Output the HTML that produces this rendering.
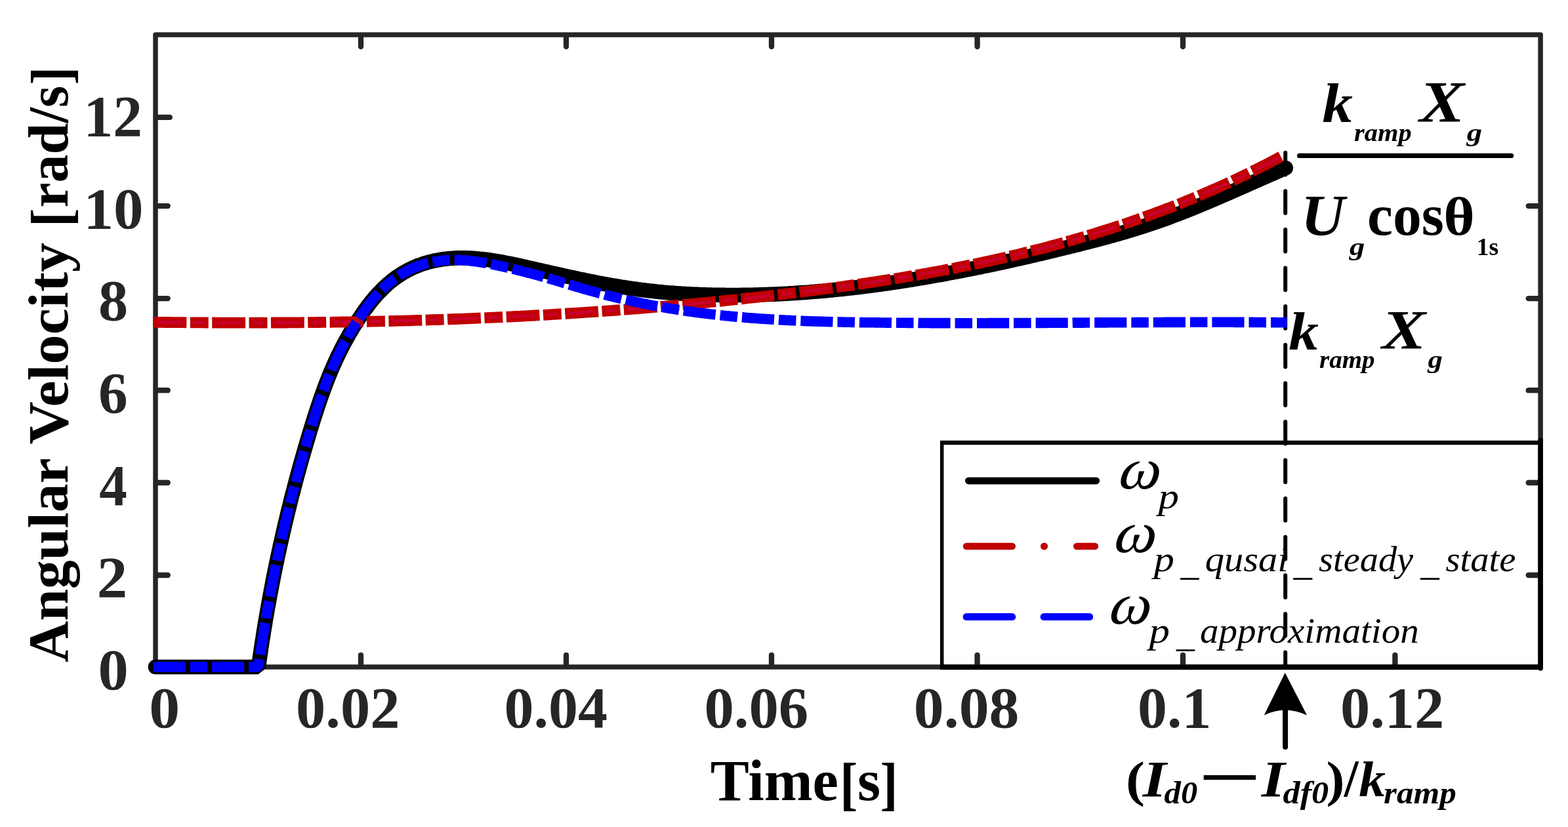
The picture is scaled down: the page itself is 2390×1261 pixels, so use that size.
<!DOCTYPE html>
<html lang="en">
<head>
<meta charset="utf-8">
<title>Angular velocity vs time</title>
<style>
html,body{margin:0;padding:0;background:#fff;overflow:hidden}
svg{display:block;font-family:"Liberation Serif","Times New Roman",Times,serif}
text{white-space:pre}
</style>
</head>
<body>
<svg width="2390" height="1261" viewBox="0 0 2390 1261">
<rect width="2390" height="1261" fill="#fff"/>
<rect x="237.0" y="53.1" width="2111.1" height="963.9" fill="none" stroke="#262626" stroke-width="7.5" stroke-linejoin="round"/>
<line x1="550" y1="1016.0" x2="550" y2="998.8" stroke="#262626" stroke-width="8.3" stroke-linecap="round"/>
<line x1="550" y1="54.1" x2="550" y2="71.1" stroke="#262626" stroke-width="8.3" stroke-linecap="round"/>
<line x1="863" y1="1016.0" x2="863" y2="998.8" stroke="#262626" stroke-width="8.3" stroke-linecap="round"/>
<line x1="863" y1="54.1" x2="863" y2="71.1" stroke="#262626" stroke-width="8.3" stroke-linecap="round"/>
<line x1="1176" y1="1016.0" x2="1176" y2="998.8" stroke="#262626" stroke-width="8.3" stroke-linecap="round"/>
<line x1="1176" y1="54.1" x2="1176" y2="71.1" stroke="#262626" stroke-width="8.3" stroke-linecap="round"/>
<line x1="1489.6" y1="1016.0" x2="1489.6" y2="998.8" stroke="#262626" stroke-width="8.3" stroke-linecap="round"/>
<line x1="1489.6" y1="54.1" x2="1489.6" y2="71.1" stroke="#262626" stroke-width="8.3" stroke-linecap="round"/>
<line x1="1803" y1="1016.0" x2="1803" y2="998.8" stroke="#262626" stroke-width="8.3" stroke-linecap="round"/>
<line x1="1803" y1="54.1" x2="1803" y2="71.1" stroke="#262626" stroke-width="8.3" stroke-linecap="round"/>
<line x1="2126.4" y1="1016.0" x2="2126.4" y2="998.8" stroke="#262626" stroke-width="8.3" stroke-linecap="round"/>
<line x1="238.0" y1="314.1" x2="255.8" y2="314.1" stroke="#262626" stroke-width="8.3" stroke-linecap="round"/>
<line x1="2347.1" y1="314.1" x2="2329.7" y2="314.1" stroke="#262626" stroke-width="8.3" stroke-linecap="round"/>
<line x1="238.0" y1="455.1" x2="255.8" y2="455.1" stroke="#262626" stroke-width="8.3" stroke-linecap="round"/>
<line x1="2347.1" y1="455.1" x2="2329.7" y2="455.1" stroke="#262626" stroke-width="8.3" stroke-linecap="round"/>
<line x1="238.0" y1="595.2" x2="255.8" y2="595.2" stroke="#262626" stroke-width="8.3" stroke-linecap="round"/>
<line x1="2347.1" y1="595.2" x2="2329.7" y2="595.2" stroke="#262626" stroke-width="8.3" stroke-linecap="round"/>
<line x1="238.0" y1="736" x2="255.8" y2="736" stroke="#262626" stroke-width="8.3" stroke-linecap="round"/>
<line x1="2347.1" y1="736" x2="2329.7" y2="736" stroke="#262626" stroke-width="8.3" stroke-linecap="round"/>
<line x1="238.0" y1="877" x2="255.8" y2="877" stroke="#262626" stroke-width="8.3" stroke-linecap="round"/>
<line x1="2347.1" y1="877" x2="2329.7" y2="877" stroke="#262626" stroke-width="8.3" stroke-linecap="round"/>
<line x1="238.0" y1="178.9" x2="258.9" y2="178.9" stroke="#262626" stroke-width="8.3" stroke-linecap="round"/>
<text x="127.6" y="207.2" font-size="88.5" font-weight="bold" fill="#262626" textLength="89.5" lengthAdjust="spacingAndGlyphs">12</text>
<text x="127.5" y="347.9" font-size="88.5" font-weight="bold" fill="#262626" textLength="91.1" lengthAdjust="spacingAndGlyphs">10</text>
<text x="150.0" y="488.4" font-size="88.5" font-weight="bold" fill="#262626" textLength="45.2" lengthAdjust="spacingAndGlyphs">8</text>
<text x="150.1" y="629.2" font-size="88.5" font-weight="bold" fill="#262626" textLength="44.7" lengthAdjust="spacingAndGlyphs">6</text>
<text x="151.3" y="769.9" font-size="88.5" font-weight="bold" fill="#262626" textLength="42.5" lengthAdjust="spacingAndGlyphs">4</text>
<text x="147.7" y="910.3" font-size="88.5" font-weight="bold" fill="#262626" textLength="46.5" lengthAdjust="spacingAndGlyphs">2</text>
<text x="149.5" y="1051.3" font-size="88.5" font-weight="bold" fill="#262626" textLength="46.3" lengthAdjust="spacingAndGlyphs">0</text>
<text x="227.2" y="1109.0" font-size="88.5" font-weight="bold" fill="#262626" textLength="46.9" lengthAdjust="spacingAndGlyphs">0</text>
<text x="451.1" y="1109.0" font-size="88.5" font-weight="bold" fill="#262626" textLength="158.4" lengthAdjust="spacingAndGlyphs">0.02</text>
<text x="768.5" y="1109.0" font-size="88.5" font-weight="bold" fill="#262626" textLength="157.5" lengthAdjust="spacingAndGlyphs">0.04</text>
<text x="1073.4" y="1109.0" font-size="88.5" font-weight="bold" fill="#262626" textLength="158.8" lengthAdjust="spacingAndGlyphs">0.06</text>
<text x="1392.8" y="1109.0" font-size="88.5" font-weight="bold" fill="#262626" textLength="160.7" lengthAdjust="spacingAndGlyphs">0.08</text>
<text x="1734.1" y="1109.0" font-size="88.5" font-weight="bold" fill="#262626" textLength="112.3" lengthAdjust="spacingAndGlyphs">0.1</text>
<text x="2043.0" y="1109.0" font-size="88.5" font-weight="bold" fill="#262626" textLength="158.3" lengthAdjust="spacingAndGlyphs">0.12</text>
<text><tspan x="1082.7" y="1220.4" font-size="88.2" font-weight="bold" textLength="195.2" lengthAdjust="spacingAndGlyphs">Time</tspan><tspan x="1279.9" y="1224.7" font-size="88.2" font-weight="bold" textLength="27.4" lengthAdjust="spacingAndGlyphs">[</tspan><tspan x="1307.0" y="1220.4" font-size="88.2" font-weight="bold" textLength="35.1" lengthAdjust="spacingAndGlyphs">s</tspan><tspan x="1341.6" y="1224.7" font-size="88.2" font-weight="bold" textLength="27.1" lengthAdjust="spacingAndGlyphs">]</tspan></text>
<text transform="translate(103.2,0) rotate(-90)"><tspan x="-1009.9" y="0" font-size="87.5" font-weight="bold" textLength="311.4" lengthAdjust="spacingAndGlyphs">Angular</tspan> <tspan x="-677.5" y="0" font-size="87.5" font-weight="bold" textLength="307.7" lengthAdjust="spacingAndGlyphs">Velocity</tspan> <tspan x="-346.5" y="3.7" font-size="87.5" font-weight="bold" textLength="29.2" lengthAdjust="spacingAndGlyphs">[</tspan><tspan x="-316.5" y="0" font-size="87.5" font-weight="bold" textLength="185.9" lengthAdjust="spacingAndGlyphs">rad/s</tspan><tspan x="-129.5" y="3.7" font-size="87.5" font-weight="bold" textLength="28.1" lengthAdjust="spacingAndGlyphs">]</tspan></text>
<g id="legend">
<line x1="1435.7" y1="675" x2="1435.7" y2="1017" stroke="#000" stroke-width="5.5" stroke-linecap="butt"/>
<line x1="1433" y1="675.1" x2="2348" y2="675.1" stroke="#000" stroke-width="6.5" stroke-linecap="butt"/>
<line x1="2348.1" y1="671.5" x2="2348.1" y2="1019" stroke="#000" stroke-width="7.5" stroke-linecap="round"/>
<line x1="1433" y1="1017.2" x2="2348.1" y2="1017.2" stroke="#000" stroke-width="8" stroke-linecap="butt"/>
<line x1="1476.3" y1="733.1" x2="1670.9" y2="733.1" stroke="#000" stroke-width="10.6" stroke-linecap="round"/>
<line x1="1473.1" y1="833" x2="1542.8" y2="833" stroke="#c00000" stroke-width="10.6" stroke-linecap="round"/>
<line x1="1591.5" y1="833" x2="1591.6" y2="833" stroke="#c00000" stroke-width="11" stroke-linecap="round"/>
<line x1="1641.3" y1="833" x2="1668.9" y2="833" stroke="#c00000" stroke-width="10.6" stroke-linecap="round"/>
<line x1="1473.1" y1="940.6" x2="1542.8" y2="940.6" stroke="#0000ff" stroke-width="11" stroke-linecap="round"/>
<line x1="1591.1" y1="940.6" x2="1660.8" y2="940.6" stroke="#0000ff" stroke-width="11" stroke-linecap="round"/>
<text transform="translate(1700.4,745.3) skewX(-16)" font-size="89" textLength="63.7" lengthAdjust="spacingAndGlyphs">ω</text>
<text x="1765.6" y="774.9" font-size="54.3" font-style="italic" textLength="31.5" lengthAdjust="spacingAndGlyphs">p</text>
<text transform="translate(1693.4,842.2) skewX(-16)" font-size="89" textLength="63.9" lengthAdjust="spacingAndGlyphs">ω</text>
<text><tspan x="1758.8" y="871.2" font-size="54.3" font-style="italic" textLength="31.2" lengthAdjust="spacingAndGlyphs">p</tspan><tspan x="1799.6" y="876.6" font-size="54.3" font-style="italic" textLength="28.0" lengthAdjust="spacingAndGlyphs">_</tspan><tspan x="1836.8" y="871.2" font-size="54.3" font-style="italic" textLength="126.6" lengthAdjust="spacingAndGlyphs">qusai</tspan><tspan x="1971.4" y="876.6" font-size="54.3" font-style="italic" textLength="28.5" lengthAdjust="spacingAndGlyphs">_</tspan><tspan x="2010.1" y="871.2" font-size="54.3" font-style="italic" textLength="144.0" lengthAdjust="spacingAndGlyphs">steady</tspan><tspan x="2165.2" y="876.6" font-size="54.3" font-style="italic" textLength="28.5" lengthAdjust="spacingAndGlyphs">_</tspan><tspan x="2203.4" y="871.2" font-size="54.3" font-style="italic" textLength="107.1" lengthAdjust="spacingAndGlyphs">state</tspan></text>
<text transform="translate(1686.1,951.2) skewX(-16)" font-size="89" textLength="63.6" lengthAdjust="spacingAndGlyphs">ω</text>
<text><tspan x="1751.5" y="980.3" font-size="54.3" font-style="italic" textLength="31.5" lengthAdjust="spacingAndGlyphs">p</tspan><tspan x="1793.0" y="985.6" font-size="54.3" font-style="italic" textLength="27.8" lengthAdjust="spacingAndGlyphs">_</tspan><tspan x="1828.9" y="980.3" font-size="54.3" font-style="italic" textLength="333.8" lengthAdjust="spacingAndGlyphs">approximation</tspan></text>
</g>
<path d="M1959.2,232.7 V1017" fill="none" stroke="#000" stroke-width="6" stroke-linecap="round" stroke-dasharray="33.7 24.9"/>
<path d="M237.0,1017.0 L393.6,1017.0 L394.5,1013.1 L395.1,1009.1 L395.6,1005.2 L396.2,1001.2 L396.8,997.3 L397.4,993.4 L397.9,989.4 L398.5,985.5 L399.1,981.5 L399.7,977.6 L400.4,973.7 L401.0,969.7 L401.6,965.8 L402.2,961.8 L402.9,957.9 L403.5,954.0 L404.2,950.0 L404.8,946.1 L405.5,942.1 L406.2,938.2 L406.9,934.3 L407.6,930.3 L408.2,926.4 L409.0,922.4 L409.7,918.5 L410.4,914.6 L411.1,910.6 L411.8,906.7 L412.6,902.8 L413.3,898.8 L414.1,894.9 L414.8,890.9 L415.6,887.0 L416.4,883.1 L417.1,879.1 L417.9,875.2 L418.7,871.2 L419.5,867.3 L420.3,863.4 L421.1,859.4 L422.0,855.5 L422.8,851.5 L423.6,847.6 L424.5,843.7 L425.3,839.7 L426.2,835.8 L427.0,831.8 L427.9,827.9 L428.8,824.0 L429.7,820.0 L430.6,816.1 L431.5,812.1 L432.4,808.2 L433.3,804.3 L434.2,800.3 L435.1,796.4 L436.1,792.4 L437.0,788.5 L438.0,784.6 L438.9,780.6 L439.9,776.7 L440.9,772.7 L441.9,768.8 L442.8,764.9 L443.8,760.9 L444.8,757.0 L445.8,753.0 L446.9,749.1 L447.9,745.2 L448.9,741.2 L450.0,737.3 L451.0,733.3 L452.1,729.4 L453.1,725.5 L454.2,721.5 L455.3,717.6 L456.4,713.7 L457.4,709.7 L458.5,705.8 L459.7,701.8 L460.8,697.9 L461.9,694.0 L463.0,690.0 L464.2,686.1 L465.3,682.1 L466.5,678.2 L467.6,674.3 L468.8,670.3 L470.0,666.4 L471.1,662.4 L472.3,658.5 L473.5,654.6 L474.7,650.6 L475.9,646.7 L477.2,642.7 L478.4,638.8 L479.6,634.9 L480.9,630.9 L482.2,627.0 L483.5,623.0 L484.8,619.1 L486.1,615.2 L487.4,611.2 L488.8,607.3 L490.2,603.3 L491.6,599.4 L493.0,595.5 L494.4,591.5 L495.9,587.6 L497.4,583.6 L499.0,579.7 L500.5,575.8 L502.1,571.8 L503.7,567.9 L505.4,563.9 L507.1,560.0 L508.8,556.1 L510.6,552.1 L512.4,548.2 L514.2,544.2 L516.1,540.3 L518.1,536.4 L520.0,532.4 L522.0,528.5 L524.1,524.6 L526.2,520.6 L528.4,516.7 L530.6,512.7 L532.8,508.8 L535.1,504.9 L537.5,500.9 L539.9,497.0 L542.4,493.0 L544.9,489.1 L547.5,485.2 L550.2,481.2 L552.9,477.3 L555.6,473.3 L558.5,469.4 L561.4,465.5 L564.4,461.5 L567.6,457.6 L570.9,453.6 L574.4,449.7 L578.0,445.8 L581.9,441.8 L585.9,437.9 L590.2,433.9 L594.8,430.0 L597.5,427.8 L600.3,425.7 L603.0,423.7 L605.7,421.7 L608.5,419.9 L611.2,418.1 L613.9,416.4 L616.7,414.8 L619.4,413.3 L622.2,411.8 L624.9,410.4 L627.6,409.1 L630.4,407.8 L633.1,406.7 L635.8,405.5 L638.6,404.5 L641.3,403.5 L644.0,402.5 L646.8,401.6 L649.5,400.8 L652.2,400.0 L655.0,399.3 L657.7,398.6 L660.5,397.9 L663.2,397.3 L665.9,396.8 L668.7,396.3 L671.4,395.8 L674.1,395.4 L676.9,395.0 L679.6,394.7 L682.3,394.4 L685.1,394.1 L687.8,393.9 L690.5,393.7 L693.3,393.5 L696.0,393.4 L698.7,393.3 L701.5,393.3 L704.2,393.2 L707.0,393.3 L709.7,393.3 L712.4,393.4 L715.2,393.5 L717.9,393.6 L720.6,393.8 L723.4,393.9 L726.1,394.2 L728.8,394.4 L731.6,394.7 L734.3,394.9 L737.0,395.3 L739.8,395.6 L742.5,395.9 L745.3,396.3 L748.0,396.7 L750.7,397.1 L753.5,397.5 L756.2,398.0 L758.9,398.5 L761.7,398.9 L764.4,399.4 L767.1,399.9 L769.9,400.5 L772.6,401.0 L775.3,401.5 L778.1,402.1 L780.8,402.7 L783.5,403.2 L786.3,403.8 L789.0,404.4 L791.8,405.0 L794.5,405.6 L797.2,406.2 L800.0,406.8 L802.7,407.5 L805.4,408.1 L808.2,408.7 L810.9,409.3 L813.6,409.9 L816.4,410.6 L819.1,411.2 L821.8,411.8 L824.6,412.4 L827.3,413.1 L830.1,413.7 L832.8,414.3 L835.5,414.9 L838.3,415.6 L841.0,416.2 L843.7,416.8 L846.5,417.4 L849.2,418.0 L851.9,418.6 L854.7,419.2 L857.4,419.9 L860.1,420.5 L862.9,421.1 L865.6,421.7 L868.3,422.3 L871.1,422.9 L873.8,423.4 L876.6,424.0 L879.3,424.6 L882.0,425.2 L884.8,425.8 L887.5,426.3 L890.2,426.9 L893.0,427.5 L895.7,428.0 L898.4,428.6 L901.2,429.1 L903.9,429.7 L906.6,430.2 L909.4,430.8 L912.1,431.3 L914.9,431.8 L917.6,432.3 L920.3,432.8 L923.1,433.3 L925.8,433.8 L928.5,434.3 L931.3,434.8 L934.0,435.3 L936.7,435.8 L939.5,436.2 L942.2,436.7 L944.9,437.1 L947.7,437.6 L950.4,438.0 L953.1,438.4 L955.9,438.9 L958.6,439.3 L961.4,439.7 L964.1,440.1 L966.8,440.4 L969.6,440.8 L972.3,441.2 L975.0,441.5 L977.8,441.9 L980.5,442.2 L983.2,442.6 L986.0,442.9 L988.7,443.2 L991.4,443.5 L994.2,443.8 L996.9,444.1 L999.7,444.4 L1002.4,444.7 L1005.1,444.9 L1007.9,445.2 L1010.6,445.5 L1013.3,445.7 L1016.1,445.9 L1018.8,446.2 L1021.5,446.4 L1024.3,446.6 L1027.0,446.8 L1029.7,447.0 L1032.5,447.2 L1035.2,447.4 L1037.9,447.6 L1040.7,447.8 L1043.4,447.9 L1046.2,448.1 L1048.9,448.2 L1051.6,448.4 L1054.4,448.5 L1057.1,448.7 L1059.8,448.8 L1062.6,448.9 L1065.3,449.0 L1068.0,449.1 L1070.8,449.2 L1073.5,449.3 L1076.2,449.4 L1079.0,449.5 L1081.7,449.6 L1084.4,449.6 L1087.2,449.7 L1089.9,449.7 L1092.7,449.8 L1095.4,449.8 L1098.1,449.9 L1100.9,449.9 L1103.6,449.9 L1106.3,450.0 L1109.1,450.0 L1111.8,450.0 L1114.5,450.0 L1117.3,450.0 L1120.0,450.0 L1122.7,450.0 L1125.5,450.0 L1128.2,450.0 L1131.0,449.9 L1133.7,449.9 L1136.4,449.9 L1139.2,449.8 L1141.9,449.8 L1144.6,449.7 L1147.4,449.7 L1150.1,449.6 L1152.8,449.5 L1155.6,449.5 L1158.3,449.4 L1161.0,449.3 L1163.8,449.2 L1166.5,449.1 L1169.2,449.0 L1172.0,448.9 L1174.7,448.8 L1177.5,448.7 L1180.2,448.6 L1182.9,448.5 L1185.7,448.4 L1188.4,448.2 L1191.1,448.1 L1193.9,448.0 L1196.6,447.8 L1199.3,447.7 L1202.1,447.5 L1204.8,447.3 L1207.5,447.2 L1210.3,447.0 L1213.0,446.8 L1215.8,446.6 L1218.5,446.5 L1221.2,446.3 L1224.0,446.1 L1226.7,445.9 L1229.4,445.7 L1232.2,445.5 L1234.9,445.3 L1237.6,445.0 L1240.4,444.8 L1243.1,444.6 L1245.8,444.4 L1248.6,444.1 L1251.3,443.9 L1254.0,443.7 L1256.8,443.4 L1259.5,443.2 L1262.3,442.9 L1265.0,442.6 L1267.7,442.4 L1270.5,442.1 L1273.2,441.8 L1275.9,441.6 L1278.7,441.3 L1281.4,441.0 L1284.1,440.7 L1286.9,440.4 L1289.6,440.1 L1292.3,439.8 L1295.1,439.5 L1297.8,439.2 L1300.6,438.9 L1303.3,438.5 L1306.0,438.2 L1308.8,437.9 L1311.5,437.6 L1314.2,437.2 L1317.0,436.9 L1319.7,436.5 L1322.4,436.2 L1325.2,435.8 L1327.9,435.5 L1330.6,435.1 L1333.4,434.8 L1336.1,434.4 L1338.8,434.0 L1341.6,433.7 L1344.3,433.3 L1347.1,432.9 L1349.8,432.5 L1352.5,432.1 L1355.3,431.7 L1358.0,431.3 L1360.7,430.9 L1363.5,430.5 L1366.2,430.1 L1368.9,429.7 L1371.7,429.3 L1374.4,428.9 L1377.1,428.4 L1379.9,428.0 L1382.6,427.6 L1385.4,427.1 L1388.1,426.7 L1390.8,426.3 L1393.6,425.8 L1396.3,425.4 L1399.0,424.9 L1401.8,424.5 L1404.5,424.0 L1407.2,423.6 L1410.0,423.1 L1412.7,422.6 L1415.4,422.1 L1418.2,421.7 L1420.9,421.2 L1423.6,420.7 L1426.4,420.2 L1429.1,419.7 L1431.9,419.2 L1434.6,418.8 L1437.3,418.3 L1440.1,417.8 L1442.8,417.3 L1445.5,416.7 L1448.3,416.2 L1451.0,415.7 L1453.7,415.2 L1456.5,414.7 L1459.2,414.2 L1461.9,413.6 L1464.7,413.1 L1467.4,412.6 L1470.2,412.0 L1472.9,411.5 L1475.6,411.0 L1478.4,410.4 L1481.1,409.9 L1483.8,409.3 L1486.6,408.8 L1489.3,408.2 L1492.0,407.7 L1494.8,407.1 L1497.5,406.5 L1500.2,406.0 L1503.0,405.4 L1505.7,404.8 L1508.4,404.3 L1511.2,403.7 L1513.9,403.1 L1516.7,402.5 L1519.4,401.9 L1522.1,401.3 L1524.9,400.8 L1527.6,400.2 L1530.3,399.6 L1533.1,399.0 L1535.8,398.4 L1538.5,397.8 L1541.3,397.2 L1544.0,396.6 L1546.7,395.9 L1549.5,395.3 L1552.2,394.7 L1555.0,394.1 L1557.7,393.5 L1560.4,392.9 L1563.2,392.2 L1565.9,391.6 L1568.6,391.0 L1571.4,390.3 L1574.1,389.7 L1576.8,389.1 L1579.6,388.4 L1582.3,387.8 L1585.0,387.2 L1587.8,386.5 L1590.5,385.9 L1593.2,385.2 L1596.0,384.6 L1598.7,383.9 L1601.5,383.3 L1604.2,382.6 L1606.9,381.9 L1609.7,381.3 L1612.4,380.6 L1615.1,379.9 L1617.9,379.3 L1620.6,378.6 L1623.3,377.9 L1626.1,377.3 L1628.8,376.6 L1631.5,375.9 L1634.3,375.2 L1637.0,374.6 L1639.8,373.9 L1642.5,373.2 L1645.2,372.5 L1648.0,371.8 L1650.7,371.1 L1653.4,370.4 L1656.2,369.7 L1658.9,369.0 L1661.6,368.3 L1664.4,367.6 L1667.1,366.9 L1669.8,366.2 L1672.6,365.5 L1675.3,364.7 L1678.0,364.0 L1680.8,363.3 L1683.5,362.5 L1686.3,361.8 L1689.0,361.0 L1691.7,360.3 L1694.5,359.5 L1697.2,358.8 L1699.9,358.0 L1702.7,357.2 L1705.4,356.5 L1708.1,355.7 L1710.9,354.9 L1713.6,354.1 L1716.3,353.3 L1719.1,352.5 L1721.8,351.6 L1724.5,350.8 L1727.3,350.0 L1730.0,349.1 L1732.8,348.3 L1735.5,347.4 L1738.2,346.6 L1741.0,345.7 L1743.7,344.8 L1746.4,343.9 L1749.2,343.0 L1751.9,342.1 L1754.6,341.2 L1757.4,340.3 L1760.1,339.4 L1762.8,338.4 L1765.6,337.5 L1768.3,336.5 L1771.1,335.5 L1773.8,334.6 L1776.5,333.6 L1779.3,332.6 L1782.0,331.6 L1784.7,330.6 L1787.5,329.5 L1790.2,328.5 L1792.9,327.5 L1795.7,326.4 L1798.4,325.4 L1801.1,324.3 L1803.9,323.2 L1806.6,322.2 L1809.3,321.1 L1812.1,320.0 L1814.8,318.9 L1817.6,317.8 L1820.3,316.7 L1823.0,315.5 L1825.8,314.4 L1828.5,313.3 L1831.2,312.2 L1834.0,311.0 L1836.7,309.9 L1839.4,308.7 L1842.2,307.6 L1844.9,306.4 L1847.6,305.3 L1850.4,304.1 L1853.1,302.9 L1855.9,301.7 L1858.6,300.6 L1861.3,299.4 L1864.1,298.2 L1866.8,297.0 L1869.5,295.8 L1872.3,294.6 L1875.0,293.4 L1877.7,292.2 L1880.5,291.0 L1883.2,289.8 L1885.9,288.6 L1888.7,287.4 L1891.4,286.2 L1894.1,285.0 L1896.9,283.8 L1899.6,282.6 L1902.4,281.4 L1905.1,280.2 L1907.8,279.0 L1910.6,277.7 L1913.3,276.5 L1916.0,275.3 L1918.8,274.1 L1921.5,272.9 L1924.2,271.7 L1927.0,270.5 L1929.7,269.3 L1932.4,268.1 L1935.2,266.9 L1937.9,265.7 L1940.7,264.5 L1943.4,263.3 L1946.1,262.1 L1948.9,260.9 L1951.6,259.7 L1954.3,258.5 L1957.1,257.3 L1959.8,256.2" fill="none" stroke="#000" stroke-width="22.6" stroke-linecap="round" stroke-linejoin="bevel"/>
<path d="M233.5,491.3 L239.2,491.3 L245.0,491.4 L250.7,491.5 L256.5,491.5 L262.2,491.6 L268.0,491.6 L273.7,491.7 L279.5,491.7 L285.2,491.8 L291.0,491.8 L296.7,491.9 L302.5,491.9 L308.2,491.9 L314.0,492.0 L319.7,492.0 L325.5,492.0 L331.2,492.1 L337.0,492.1 L342.7,492.1 L348.5,492.1 L354.2,492.1 L360.0,492.1 L365.7,492.1 L371.5,492.1 L377.2,492.1 L383.0,492.1 L388.7,492.1 L394.5,492.1 L400.2,492.1 L406.0,492.1 L411.7,492.1 L417.5,492.0 L423.2,492.0 L428.9,492.0 L434.7,492.0 L440.4,491.9 L446.2,491.9 L451.9,491.8 L457.7,491.8 L463.4,491.7 L469.2,491.7 L474.9,491.6 L480.7,491.6 L486.4,491.5 L492.2,491.4 L497.9,491.3 L503.7,491.3 L509.4,491.2 L515.2,491.1 L520.9,491.0 L526.7,490.9 L532.4,490.8 L538.2,490.7 L543.9,490.6 L549.7,490.5 L555.4,490.4 L561.2,490.3 L566.9,490.2 L572.7,490.1 L578.4,489.9 L584.2,489.8 L589.9,489.7 L595.7,489.5 L601.4,489.4 L607.2,489.2 L612.9,489.1 L618.6,488.9 L624.4,488.8 L630.1,488.6 L635.9,488.4 L641.6,488.3 L647.4,488.1 L653.1,487.9 L658.9,487.7 L664.6,487.5 L670.4,487.4 L676.1,487.2 L681.9,487.0 L687.6,486.7 L693.4,486.5 L699.1,486.3 L704.9,486.1 L710.6,485.9 L716.4,485.6 L722.1,485.4 L727.9,485.2 L733.6,484.9 L739.4,484.7 L745.1,484.4 L750.9,484.2 L756.6,483.9 L762.4,483.7 L768.1,483.4 L773.9,483.1 L779.6,482.8 L785.4,482.5 L791.1,482.3 L796.9,482.0 L802.6,481.7 L808.3,481.4 L814.1,481.0 L819.8,480.7 L825.6,480.4 L831.3,480.1 L837.1,479.8 L842.8,479.4 L848.6,479.1 L854.3,478.7 L860.1,478.4 L865.8,478.0 L871.6,477.7 L877.3,477.3 L883.1,476.9 L888.8,476.6 L894.6,476.2 L900.3,475.8 L906.1,475.4 L911.8,475.0 L917.6,474.6 L923.3,474.2 L929.1,473.8 L934.8,473.4 L940.6,473.0 L946.3,472.5 L952.1,472.1 L957.8,471.6 L963.6,471.2 L969.3,470.8 L975.1,470.3 L980.8,469.8 L986.6,469.4 L992.3,468.9 L998.0,468.4 L1003.8,467.9 L1009.5,467.4 L1015.3,466.9 L1021.0,466.4 L1026.8,465.9 L1032.5,465.4 L1038.3,464.9 L1044.0,464.4 L1049.8,463.8 L1055.5,463.3 L1061.3,462.8 L1067.0,462.2 L1072.8,461.7 L1078.5,461.1 L1084.3,460.5 L1090.0,460.0 L1095.8,459.4 L1101.5,458.8 L1107.3,458.2 L1113.0,457.6 L1118.8,457.0 L1124.5,456.4 L1130.3,455.8 L1136.0,455.2 L1141.8,454.5 L1147.5,453.9 L1153.3,453.3 L1159.0,452.6 L1164.8,452.0 L1170.5,451.3 L1176.3,450.6 L1182.0,450.0 L1187.8,449.3 L1193.5,448.6 L1199.2,447.9 L1205.0,447.2 L1210.7,446.5 L1216.5,445.8 L1222.2,445.1 L1228.0,444.4 L1233.7,443.6 L1239.5,442.9 L1245.2,442.1 L1251.0,441.4 L1256.7,440.6 L1262.5,439.9 L1268.2,439.1 L1274.0,438.3 L1279.7,437.5 L1285.5,436.7 L1291.2,435.9 L1297.0,435.1 L1302.7,434.3 L1308.5,433.5 L1314.2,432.6 L1320.0,431.8 L1325.7,430.9 L1331.5,430.1 L1337.2,429.2 L1343.0,428.3 L1348.7,427.4 L1354.5,426.5 L1360.2,425.6 L1366.0,424.7 L1371.7,423.7 L1377.5,422.8 L1383.2,421.8 L1388.9,420.9 L1394.7,419.9 L1400.4,418.9 L1406.2,417.9 L1411.9,416.9 L1417.7,415.8 L1423.4,414.8 L1429.2,413.7 L1434.9,412.7 L1440.7,411.6 L1446.4,410.5 L1452.2,409.4 L1457.9,408.3 L1463.7,407.1 L1469.4,406.0 L1475.2,404.8 L1480.9,403.6 L1486.7,402.4 L1492.4,401.2 L1498.2,400.0 L1503.9,398.8 L1509.7,397.5 L1515.4,396.3 L1521.2,395.0 L1526.9,393.7 L1532.7,392.4 L1538.4,391.0 L1544.2,389.7 L1549.9,388.3 L1555.7,386.9 L1561.4,385.5 L1567.2,384.1 L1572.9,382.7 L1578.6,381.2 L1584.4,379.8 L1590.1,378.3 L1595.9,376.8 L1601.6,375.2 L1607.4,373.7 L1613.1,372.1 L1618.9,370.5 L1624.6,368.9 L1630.4,367.3 L1636.1,365.7 L1641.9,364.0 L1647.6,362.3 L1653.4,360.6 L1659.1,358.9 L1664.9,357.2 L1670.6,355.4 L1676.4,353.6 L1682.1,351.8 L1687.9,350.0 L1693.6,348.2 L1699.4,346.3 L1705.1,344.4 L1710.9,342.5 L1716.6,340.6 L1722.4,338.6 L1728.1,336.6 L1733.9,334.6 L1739.6,332.6 L1745.4,330.5 L1751.1,328.5 L1756.9,326.4 L1762.6,324.2 L1768.3,322.1 L1774.1,319.9 L1779.8,317.7 L1785.6,315.5 L1791.3,313.3 L1797.1,311.0 L1802.8,308.7 L1808.6,306.4 L1814.3,304.0 L1820.1,301.6 L1825.8,299.2 L1831.6,296.8 L1837.3,294.3 L1843.1,291.8 L1848.8,289.3 L1854.6,286.8 L1860.3,284.2 L1866.1,281.6 L1871.8,278.9 L1877.6,276.3 L1883.3,273.6 L1889.1,270.8 L1894.8,268.1 L1900.6,265.3 L1906.3,262.5 L1912.1,259.6 L1917.8,256.7 L1923.6,253.8 L1929.3,250.9 L1935.1,247.9 L1940.8,244.9 L1946.6,241.8 L1952.3,238.8" fill="none" stroke="#c00000" stroke-width="16.8" stroke-dasharray="50.85 5.48 27.92 5.48"/>
<path d="M233.5,491.3 L239.2,491.3 L245.0,491.4 L250.7,491.5 L256.5,491.5 L262.2,491.6 L268.0,491.6 L273.7,491.7 L279.5,491.7 L285.2,491.8 L291.0,491.8 L296.7,491.9 L302.5,491.9 L308.2,491.9 L314.0,492.0 L319.7,492.0 L325.5,492.0 L331.2,492.1 L337.0,492.1 L342.7,492.1 L348.5,492.1 L354.2,492.1 L360.0,492.1 L365.7,492.1 L371.5,492.1 L377.2,492.1 L383.0,492.1 L388.7,492.1 L394.5,492.1 L400.2,492.1 L406.0,492.1 L411.7,492.1 L417.5,492.0 L423.2,492.0 L428.9,492.0 L434.7,492.0 L440.4,491.9 L446.2,491.9 L451.9,491.8 L457.7,491.8 L463.4,491.7 L469.2,491.7 L474.9,491.6 L480.7,491.6 L486.4,491.5 L492.2,491.4 L497.9,491.3 L503.7,491.3 L509.4,491.2 L515.2,491.1 L520.9,491.0 L526.7,490.9 L532.4,490.8 L538.2,490.7 L543.9,490.6 L549.7,490.5 L555.4,490.4 L561.2,490.3 L566.9,490.2 L572.7,490.1 L578.4,489.9 L584.2,489.8 L589.9,489.7 L595.7,489.5 L601.4,489.4 L607.2,489.2 L612.9,489.1 L618.6,488.9 L624.4,488.8 L630.1,488.6 L635.9,488.4 L641.6,488.3 L647.4,488.1 L653.1,487.9 L658.9,487.7 L664.6,487.5 L670.4,487.4 L676.1,487.2 L681.9,487.0 L687.6,486.7 L693.4,486.5 L699.1,486.3 L704.9,486.1 L710.6,485.9 L716.4,485.6 L722.1,485.4 L727.9,485.2 L733.6,484.9 L739.4,484.7 L745.1,484.4 L750.9,484.2 L756.6,483.9 L762.4,483.7 L768.1,483.4 L773.9,483.1 L779.6,482.8 L785.4,482.5 L791.1,482.3 L796.9,482.0 L802.6,481.7 L808.3,481.4 L814.1,481.0 L819.8,480.7 L825.6,480.4 L831.3,480.1 L837.1,479.8 L842.8,479.4 L848.6,479.1 L854.3,478.7 L860.1,478.4 L865.8,478.0 L871.6,477.7 L877.3,477.3 L883.1,476.9 L888.8,476.6 L894.6,476.2 L900.3,475.8 L906.1,475.4 L911.8,475.0 L917.6,474.6 L923.3,474.2 L929.1,473.8 L934.8,473.4 L940.6,473.0 L946.3,472.5 L952.1,472.1 L957.8,471.6 L963.6,471.2 L969.3,470.8 L975.1,470.3 L980.8,469.8 L986.6,469.4 L992.3,468.9 L998.0,468.4 L1003.8,467.9 L1009.5,467.4 L1015.3,466.9 L1021.0,466.4 L1026.8,465.9 L1032.5,465.4 L1038.3,464.9 L1044.0,464.4 L1049.8,463.8 L1055.5,463.3 L1061.3,462.8 L1067.0,462.2 L1072.8,461.7 L1078.5,461.1 L1084.3,460.5 L1090.0,460.0 L1095.8,459.4 L1101.5,458.8 L1107.3,458.2 L1113.0,457.6 L1118.8,457.0 L1124.5,456.4 L1130.3,455.8 L1136.0,455.2 L1141.8,454.5 L1147.5,453.9 L1153.3,453.3 L1159.0,452.6 L1164.8,452.0 L1170.5,451.3 L1176.3,450.6 L1182.0,450.0 L1187.8,449.3 L1193.5,448.6 L1199.2,447.9 L1205.0,447.2 L1210.7,446.5 L1216.5,445.8 L1222.2,445.1 L1228.0,444.4 L1233.7,443.6 L1239.5,442.9 L1245.2,442.1 L1251.0,441.4 L1256.7,440.6 L1262.5,439.9 L1268.2,439.1 L1274.0,438.3 L1279.7,437.5 L1285.5,436.7 L1291.2,435.9 L1297.0,435.1 L1302.7,434.3 L1308.5,433.5 L1314.2,432.6 L1320.0,431.8 L1325.7,430.9 L1331.5,430.1 L1337.2,429.2 L1343.0,428.3 L1348.7,427.4 L1354.5,426.5 L1360.2,425.6 L1366.0,424.7 L1371.7,423.7 L1377.5,422.8 L1383.2,421.8 L1388.9,420.9 L1394.7,419.9 L1400.4,418.9 L1406.2,417.9 L1411.9,416.9 L1417.7,415.8 L1423.4,414.8 L1429.2,413.7 L1434.9,412.7 L1440.7,411.6 L1446.4,410.5 L1452.2,409.4 L1457.9,408.3 L1463.7,407.1 L1469.4,406.0 L1475.2,404.8 L1480.9,403.6 L1486.7,402.4 L1492.4,401.2 L1498.2,400.0 L1503.9,398.8 L1509.7,397.5 L1515.4,396.3 L1521.2,395.0 L1526.9,393.7 L1532.7,392.4 L1538.4,391.0 L1544.2,389.7 L1549.9,388.3 L1555.7,386.9 L1561.4,385.5 L1567.2,384.1 L1572.9,382.7 L1578.6,381.2 L1584.4,379.8 L1590.1,378.3 L1595.9,376.8 L1601.6,375.2 L1607.4,373.7 L1613.1,372.1 L1618.9,370.5 L1624.6,368.9 L1630.4,367.3 L1636.1,365.7 L1641.9,364.0 L1647.6,362.3 L1653.4,360.6 L1659.1,358.9 L1664.9,357.2 L1670.6,355.4 L1676.4,353.6 L1682.1,351.8 L1687.9,350.0 L1693.6,348.2 L1699.4,346.3 L1705.1,344.4 L1710.9,342.5 L1716.6,340.6 L1722.4,338.6 L1728.1,336.6 L1733.9,334.6 L1739.6,332.6 L1745.4,330.5 L1751.1,328.5 L1756.9,326.4 L1762.6,324.2 L1768.3,322.1 L1774.1,319.9 L1779.8,317.7 L1785.6,315.5 L1791.3,313.3 L1797.1,311.0 L1802.8,308.7 L1808.6,306.4 L1814.3,304.0 L1820.1,301.6 L1825.8,299.2 L1831.6,296.8 L1837.3,294.3 L1843.1,291.8 L1848.8,289.3 L1854.6,286.8 L1860.3,284.2 L1866.1,281.6 L1871.8,278.9 L1877.6,276.3 L1883.3,273.6 L1889.1,270.8 L1894.8,268.1 L1900.6,265.3 L1906.3,262.5 L1912.1,259.6 L1917.8,256.7 L1923.6,253.8 L1929.3,250.9 L1935.1,247.9 L1940.8,244.9 L1946.6,241.8 L1952.3,238.8" fill="none" stroke="#c8002c" stroke-width="5" stroke-dasharray="39.85 16.48 16.92 16.48" stroke-dashoffset="-5.5"/>
<path d="M233.5,1017.0 L393.6,1017.0 L394.5,1013.1 L395.1,1009.1 L395.6,1005.2 L396.2,1001.2 L396.8,997.3 L397.4,993.4 L397.9,989.4 L398.5,985.5 L399.1,981.5 L399.7,977.6 L400.4,973.7 L401.0,969.7 L401.6,965.8 L402.2,961.8 L402.9,957.9 L403.5,954.0 L404.2,950.0 L404.8,946.1 L405.5,942.1 L406.2,938.2 L406.9,934.3 L407.6,930.3 L408.2,926.4 L409.0,922.4 L409.7,918.5 L410.4,914.6 L411.1,910.6 L411.8,906.7 L412.6,902.8 L413.3,898.8 L414.1,894.9 L414.8,890.9 L415.6,887.0 L416.4,883.1 L417.1,879.1 L417.9,875.2 L418.7,871.2 L419.5,867.3 L420.3,863.4 L421.1,859.4 L422.0,855.5 L422.8,851.5 L423.6,847.6 L424.5,843.7 L425.3,839.7 L426.2,835.8 L427.0,831.8 L427.9,827.9 L428.8,824.0 L429.7,820.0 L430.6,816.1 L431.5,812.1 L432.4,808.2 L433.3,804.3 L434.2,800.3 L435.1,796.4 L436.1,792.4 L437.0,788.5 L438.0,784.6 L438.9,780.6 L439.9,776.7 L440.9,772.7 L441.9,768.8 L442.8,764.9 L443.8,760.9 L444.8,757.0 L445.8,753.0 L446.9,749.1 L447.9,745.2 L448.9,741.2 L450.0,737.3 L451.0,733.3 L452.1,729.4 L453.1,725.5 L454.2,721.5 L455.3,717.6 L456.4,713.7 L457.4,709.7 L458.5,705.8 L459.7,701.8 L460.8,697.9 L461.9,694.0 L463.0,690.0 L464.2,686.1 L465.3,682.1 L466.5,678.2 L467.6,674.3 L468.8,670.3 L470.0,666.4 L471.1,662.4 L472.3,658.5 L473.5,654.6 L474.7,650.6 L475.9,646.7 L477.2,642.7 L478.4,638.8 L479.6,634.9 L480.9,630.9 L482.2,627.0 L483.5,623.0 L484.8,619.1 L486.1,615.2 L487.4,611.2 L488.8,607.3 L490.2,603.3 L491.6,599.4 L493.0,595.5 L494.4,591.5 L495.9,587.6 L497.4,583.6 L499.0,579.7 L500.5,575.8 L502.1,571.8 L503.7,567.9 L505.4,563.9 L507.1,560.0 L508.8,556.1 L510.6,552.1 L512.4,548.2 L514.2,544.2 L516.1,540.3 L518.1,536.4 L520.0,532.4 L522.0,528.5 L524.1,524.6 L526.2,520.6 L528.4,516.7 L530.6,512.7 L532.8,508.8 L535.1,504.9 L537.5,500.9 L539.9,497.0 L542.4,493.0 L544.9,489.1 L547.5,485.2 L550.2,481.2 L552.9,477.3 L555.6,473.3 L558.5,469.4 L561.4,465.5 L564.4,461.5 L567.6,457.6 L570.9,453.6 L574.4,449.7 L578.0,445.8 L581.9,441.8 L585.9,437.9 L590.2,433.9 L594.8,430.0 L597.5,427.8 L600.3,425.7 L603.0,423.8 L605.8,421.9 L608.5,420.1 L611.2,418.4 L614.0,416.7 L616.7,415.2 L619.5,413.7 L622.2,412.3 L624.9,411.0 L627.7,409.7 L630.4,408.5 L633.1,407.3 L635.9,406.3 L638.6,405.3 L641.4,404.3 L644.1,403.4 L646.8,402.6 L649.6,401.8 L652.3,401.1 L655.1,400.5 L657.8,399.8 L660.5,399.3 L663.3,398.8 L666.0,398.3 L668.8,398.0 L671.5,397.6 L674.2,397.3 L677.0,397.0 L679.7,396.8 L682.4,396.7 L685.2,396.5 L687.9,396.4 L690.7,396.4 L693.4,396.4 L696.1,396.4 L698.9,396.5 L701.6,396.6 L704.4,396.7 L707.1,396.9 L709.8,397.1 L712.6,397.3 L715.3,397.6 L718.1,397.9 L720.8,398.2 L723.5,398.6 L726.3,398.9 L729.0,399.3 L731.7,399.8 L734.5,400.2 L737.2,400.7 L740.0,401.1 L742.7,401.6 L745.4,402.1 L748.2,402.7 L750.9,403.2 L753.7,403.8 L756.4,404.3 L759.1,404.9 L761.9,405.5 L764.6,406.1 L767.3,406.7 L770.1,407.3 L772.8,408.0 L775.6,408.6 L778.3,409.2 L781.0,409.9 L783.8,410.5 L786.5,411.2 L789.3,411.9 L792.0,412.6 L794.7,413.3 L797.5,414.0 L800.2,414.7 L803.0,415.4 L805.7,416.1 L808.4,416.8 L811.2,417.5 L813.9,418.3 L816.6,419.0 L819.4,419.8 L822.1,420.5 L824.9,421.3 L827.6,422.1 L830.3,422.9 L833.1,423.6 L835.8,424.4 L838.6,425.2 L841.3,426.0 L844.0,426.8 L846.8,427.6 L849.5,428.4 L852.3,429.3 L855.0,430.1 L857.7,430.9 L860.5,431.7 L863.2,432.5 L865.9,433.4 L868.7,434.2 L871.4,435.0 L874.2,435.8 L876.9,436.7 L879.6,437.5 L882.4,438.3 L885.1,439.1 L887.9,439.9 L890.6,440.7 L893.3,441.5 L896.1,442.2 L898.8,443.0 L901.6,443.8 L904.3,444.5 L907.0,445.3 L909.8,446.0 L912.5,446.8 L915.2,447.5 L918.0,448.2 L920.7,448.9 L923.5,449.7 L926.2,450.4 L928.9,451.1 L931.7,451.7 L934.4,452.4 L937.2,453.1 L939.9,453.8 L942.6,454.4 L945.4,455.1 L948.1,455.7 L950.9,456.4 L953.6,457.0 L956.3,457.6 L959.1,458.2 L961.8,458.9 L964.5,459.5 L967.3,460.1 L970.0,460.6 L972.8,461.2 L975.5,461.8 L978.2,462.4 L981.0,462.9 L983.7,463.5 L986.5,464.0 L989.2,464.6 L991.9,465.1 L994.7,465.6 L997.4,466.1 L1000.2,466.6 L1002.9,467.1 L1005.6,467.6 L1008.4,468.1 L1011.1,468.6 L1013.8,469.1 L1016.6,469.6 L1019.3,470.0 L1022.1,470.5 L1024.8,470.9 L1027.5,471.4 L1030.3,471.8 L1033.0,472.2 L1035.8,472.6 L1038.5,473.1 L1041.2,473.5 L1044.0,473.9 L1046.7,474.3 L1049.5,474.7 L1052.2,475.1 L1054.9,475.4 L1057.7,475.8 L1060.4,476.2 L1063.1,476.5 L1065.9,476.9 L1068.6,477.2 L1071.4,477.6 L1074.1,477.9 L1076.8,478.3 L1079.6,478.6 L1082.3,478.9 L1085.1,479.2 L1087.8,479.5 L1090.5,479.8 L1093.3,480.1 L1096.0,480.4 L1098.8,480.7 L1101.5,481.0 L1104.2,481.3 L1107.0,481.6 L1109.7,481.8 L1112.4,482.1 L1115.2,482.4 L1117.9,482.6 L1120.7,482.9 L1123.4,483.1 L1126.1,483.4 L1128.9,483.6 L1131.6,483.8 L1134.4,484.1 L1137.1,484.3 L1139.8,484.5 L1142.6,484.7 L1145.3,484.9 L1148.1,485.1 L1150.8,485.3 L1153.5,485.5 L1156.3,485.7 L1159.0,485.9 L1161.7,486.1 L1164.5,486.3 L1167.2,486.5 L1170.0,486.6 L1172.7,486.8 L1175.4,487.0 L1178.2,487.1 L1180.9,487.3 L1183.7,487.5 L1186.4,487.6 L1189.1,487.8 L1191.9,487.9 L1194.6,488.0 L1197.4,488.2 L1200.1,488.3 L1202.8,488.4 L1205.6,488.6 L1208.3,488.7 L1211.0,488.8 L1213.8,488.9 L1216.5,489.0 L1219.3,489.2 L1222.0,489.3 L1224.7,489.4 L1227.5,489.5 L1230.2,489.6 L1233.0,489.7 L1235.7,489.8 L1238.4,489.9 L1241.2,490.0 L1243.9,490.0 L1246.7,490.1 L1249.4,490.2 L1252.1,490.3 L1254.9,490.4 L1257.6,490.5 L1260.3,490.5 L1263.1,490.6 L1265.8,490.7 L1268.6,490.7 L1271.3,490.8 L1274.0,490.9 L1276.8,490.9 L1279.5,491.0 L1282.3,491.0 L1285.0,491.1 L1287.7,491.2 L1290.5,491.2 L1293.2,491.3 L1296.0,491.3 L1298.7,491.4 L1301.4,491.4 L1304.2,491.5 L1306.9,491.5 L1309.6,491.5 L1312.4,491.6 L1315.1,491.6 L1317.9,491.7 L1320.6,491.7 L1323.3,491.7 L1326.1,491.8 L1328.8,491.8 L1331.6,491.8 L1334.3,491.9 L1337.0,491.9 L1339.8,491.9 L1342.5,492.0 L1345.3,492.0 L1348.0,492.0 L1350.7,492.1 L1353.5,492.1 L1356.2,492.1 L1358.9,492.1 L1361.7,492.2 L1364.4,492.2 L1367.2,492.2 L1369.9,492.2 L1372.6,492.3 L1375.4,492.3 L1378.1,492.3 L1380.9,492.3 L1383.6,492.4 L1386.3,492.4 L1389.1,492.4 L1391.8,492.4 L1394.6,492.4 L1397.3,492.4 L1400.0,492.5 L1402.8,492.5 L1405.5,492.5 L1408.2,492.5 L1411.0,492.5 L1413.7,492.5 L1416.5,492.5 L1419.2,492.6 L1421.9,492.6 L1424.7,492.6 L1427.4,492.6 L1430.2,492.6 L1432.9,492.6 L1435.6,492.6 L1438.4,492.6 L1441.1,492.6 L1443.9,492.6 L1446.6,492.6 L1449.3,492.6 L1452.1,492.6 L1454.8,492.7 L1457.5,492.7 L1460.3,492.7 L1463.0,492.7 L1465.8,492.7 L1468.5,492.7 L1471.2,492.7 L1474.0,492.7 L1476.7,492.7 L1479.5,492.7 L1482.2,492.7 L1484.9,492.7 L1487.7,492.7 L1490.4,492.7 L1493.2,492.7 L1495.9,492.7 L1498.6,492.7 L1501.4,492.7 L1504.1,492.7 L1506.8,492.6 L1509.6,492.6 L1512.3,492.6 L1515.1,492.6 L1517.8,492.6 L1520.5,492.6 L1523.3,492.6 L1526.0,492.6 L1528.8,492.6 L1531.5,492.6 L1534.2,492.6 L1537.0,492.6 L1539.7,492.6 L1542.5,492.6 L1545.2,492.6 L1547.9,492.5 L1550.7,492.5 L1553.4,492.5 L1556.1,492.5 L1558.9,492.5 L1561.6,492.5 L1564.4,492.5 L1567.1,492.5 L1569.8,492.5 L1572.6,492.5 L1575.3,492.4 L1578.1,492.4 L1580.8,492.4 L1583.5,492.4 L1586.3,492.4 L1589.0,492.4 L1591.8,492.4 L1594.5,492.4 L1597.2,492.3 L1600.0,492.3 L1602.7,492.3 L1605.4,492.3 L1608.2,492.3 L1610.9,492.3 L1613.7,492.3 L1616.4,492.2 L1619.1,492.2 L1621.9,492.2 L1624.6,492.2 L1627.4,492.2 L1630.1,492.2 L1632.8,492.2 L1635.6,492.1 L1638.3,492.1 L1641.1,492.1 L1643.8,492.1 L1646.5,492.1 L1649.3,492.1 L1652.0,492.1 L1654.7,492.0 L1657.5,492.0 L1660.2,492.0 L1663.0,492.0 L1665.7,492.0 L1668.4,492.0 L1671.2,491.9 L1673.9,491.9 L1676.7,491.9 L1679.4,491.9 L1682.1,491.9 L1684.9,491.9 L1687.6,491.9 L1690.4,491.8 L1693.1,491.8 L1695.8,491.8 L1698.6,491.8 L1701.3,491.8 L1704.0,491.8 L1706.8,491.8 L1709.5,491.7 L1712.3,491.7 L1715.0,491.7 L1717.7,491.7 L1720.5,491.7 L1723.2,491.7 L1726.0,491.7 L1728.7,491.6 L1731.4,491.6 L1734.2,491.6 L1736.9,491.6 L1739.7,491.6 L1742.4,491.6 L1745.1,491.6 L1747.9,491.6 L1750.6,491.5 L1753.3,491.5 L1756.1,491.5 L1758.8,491.5 L1761.6,491.5 L1764.3,491.5 L1767.0,491.5 L1769.8,491.5 L1772.5,491.5 L1775.3,491.4 L1778.0,491.4 L1780.7,491.4 L1783.5,491.4 L1786.2,491.4 L1789.0,491.4 L1791.7,491.4 L1794.4,491.4 L1797.2,491.4 L1799.9,491.4 L1802.6,491.4 L1805.4,491.4 L1808.1,491.4 L1810.9,491.3 L1813.6,491.3 L1816.3,491.3 L1819.1,491.3 L1821.8,491.3 L1824.6,491.3 L1827.3,491.3 L1830.0,491.3 L1832.8,491.3 L1835.5,491.3 L1838.3,491.3 L1841.0,491.3 L1843.7,491.3 L1846.5,491.3 L1849.2,491.3 L1851.9,491.3 L1854.7,491.3 L1857.4,491.3 L1860.2,491.3 L1862.9,491.3 L1865.6,491.3 L1868.4,491.3 L1871.1,491.3 L1873.9,491.3 L1876.6,491.3 L1879.3,491.3 L1882.1,491.4 L1884.8,491.4 L1887.6,491.4 L1890.3,491.4 L1893.0,491.4 L1895.8,491.4 L1898.5,491.4 L1901.2,491.4 L1904.0,491.4 L1906.7,491.4 L1909.5,491.4 L1912.2,491.5 L1914.9,491.5 L1917.7,491.5 L1920.4,491.5 L1923.2,491.5 L1925.9,491.5 L1928.6,491.6 L1931.4,491.6 L1934.1,491.6 L1936.9,491.6 L1939.6,491.6 L1942.3,491.6 L1945.1,491.7 L1947.8,491.7 L1950.5,491.7 L1953.3,491.7 L1956.0,491.8 L1958.8,491.8 L1961.5,491.8" fill="none" stroke="#0000ff" stroke-width="15.6" stroke-linejoin="bevel" stroke-dasharray="49.13 6.98 26.5 6.98"/>
<line x1="1980.7" y1="237.4" x2="2303.5" y2="237.4" stroke="#000" stroke-width="7.4" stroke-linecap="round"/>
<text><tspan x="2015.6" y="185.6" font-size="85" font-style="italic" font-weight="bold" textLength="46.5" lengthAdjust="spacingAndGlyphs">k</tspan><tspan x="2064.1" y="214.8" font-size="37.5" font-style="italic" font-weight="bold" textLength="87.6" lengthAdjust="spacingAndGlyphs">ramp</tspan><tspan x="2163.6" y="185.1" font-size="88.5" font-style="italic" font-weight="bold" textLength="68.7" lengthAdjust="spacingAndGlyphs">X</tspan><tspan x="2235.7" y="214.8" font-size="37.5" font-style="italic" font-weight="bold" textLength="23.4" lengthAdjust="spacingAndGlyphs">g</tspan></text>
<text><tspan x="1983.1" y="357.9" font-size="88" font-style="italic" font-weight="bold" textLength="66.9" lengthAdjust="spacingAndGlyphs">U</tspan><tspan x="2056.9" y="388.5" font-size="37.5" font-style="italic" font-weight="bold" textLength="23.3" lengthAdjust="spacingAndGlyphs">g</tspan><tspan x="2084.0" y="357.6" font-size="88.1" font-weight="bold" textLength="116.9" lengthAdjust="spacingAndGlyphs">cos</tspan><tspan x="2200.3" y="357.6" font-size="82" font-weight="bold" textLength="47.6" lengthAdjust="spacingAndGlyphs">θ</tspan><tspan x="2250.8" y="389.0" font-size="38.8" font-weight="bold" textLength="33.4" lengthAdjust="spacingAndGlyphs">1s</tspan></text>
<text><tspan x="1964.3" y="532.8" font-size="82.5" font-style="italic" font-weight="bold" textLength="45.6" lengthAdjust="spacingAndGlyphs">k</tspan><tspan x="2011.0" y="561.1" font-size="37" font-style="italic" font-weight="bold" textLength="84.6" lengthAdjust="spacingAndGlyphs">ramp</tspan><tspan x="2106.3" y="531.8" font-size="85" font-style="italic" font-weight="bold" textLength="67.0" lengthAdjust="spacingAndGlyphs">X</tspan><tspan x="2176.6" y="561.1" font-size="37" font-style="italic" font-weight="bold" textLength="22.4" lengthAdjust="spacingAndGlyphs">g</tspan></text>
<path d="M1958.7,1025.8 L1992.1,1090.6 Q1958.7,1075 1926.8,1090.6 Z" fill="#000"/>
<line x1="1959.1" y1="1080" x2="1959.1" y2="1139" stroke="#000" stroke-width="8" stroke-linecap="round"/>
<text><tspan x="1715.9" y="1214.0" font-size="76" font-weight="bold" textLength="29.0" lengthAdjust="spacingAndGlyphs">(</tspan><tspan x="1741.7" y="1214.0" font-size="79" font-style="italic" font-weight="bold" textLength="36.0" lengthAdjust="spacingAndGlyphs">I</tspan><tspan x="1774.6" y="1225.0" font-size="47.5" font-style="italic" font-weight="bold" textLength="50.7" lengthAdjust="spacingAndGlyphs">d0</tspan><tspan x="1835.3" y="1208.8" font-size="102" font-weight="bold" textLength="78.3" lengthAdjust="spacingAndGlyphs">—</tspan><tspan x="1922.8" y="1214.0" font-size="79" font-style="italic" font-weight="bold" textLength="35.9" lengthAdjust="spacingAndGlyphs">I</tspan><tspan x="1955.5" y="1225.0" font-size="47.5" font-style="italic" font-weight="bold" textLength="69.8" lengthAdjust="spacingAndGlyphs">df0</tspan><tspan x="2021.6" y="1214.0" font-size="76" font-weight="bold" textLength="28.1" lengthAdjust="spacingAndGlyphs">)</tspan><tspan x="2048.7" y="1214.3" font-size="81" font-weight="bold" textLength="21.9" lengthAdjust="spacingAndGlyphs">/</tspan><tspan x="2071.2" y="1214.0" font-size="77" font-style="italic" font-weight="bold" textLength="40.6" lengthAdjust="spacingAndGlyphs">k</tspan><tspan x="2109.0" y="1224.7" font-size="48.5" font-style="italic" font-weight="bold" textLength="110.7" lengthAdjust="spacingAndGlyphs">ramp</tspan></text>
</svg>
</body>
</html>
